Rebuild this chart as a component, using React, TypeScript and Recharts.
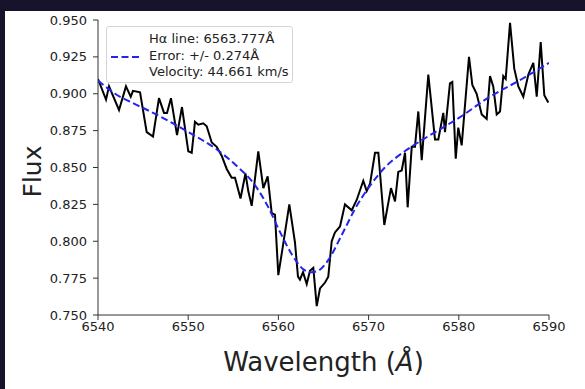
import React from 'react';
import { LineChart, Line, XAxis, YAxis, Legend, Label } from 'recharts';

// observed spectrum around H-alpha
const spectrumWl = [
  6540.0, 6540.89, 6541.22, 6542.33, 6543.1, 6543.63, 6543.88, 6544.66, 6545.4, 6546.1,
  6546.76, 6547.32, 6547.65, 6548.09, 6548.76, 6549.31, 6550.01, 6550.39, 6550.75, 6551.12,
  6551.67, 6552.05, 6552.61, 6553.16, 6553.71, 6554.27, 6554.82, 6555.19, 6555.8, 6556.35,
  6556.66, 6557.04, 6557.77, 6558.33, 6558.81, 6559.26, 6559.62, 6559.99, 6560.48, 6561.21,
  6561.84, 6562.17, 6562.39, 6562.73, 6563.14, 6563.5, 6563.87, 6564.25, 6564.61, 6565.17,
  6565.53, 6565.91, 6566.27, 6566.83, 6567.38, 6568.13, 6568.68, 6569.41, 6569.79, 6570.16,
  6570.71, 6571.08, 6571.74, 6572.48, 6572.93, 6573.29, 6573.67, 6574.04, 6574.33, 6574.78,
  6575.14, 6575.51, 6575.89, 6576.62, 6577.36, 6577.73, 6578.28, 6578.47, 6579.02, 6579.28,
  6579.66, 6579.94, 6580.32, 6581.13, 6581.5, 6581.98, 6582.54, 6583.09, 6583.46, 6583.82,
  6584.2, 6584.57, 6584.93, 6585.2, 6585.68, 6586.15, 6586.6, 6587.15, 6587.71, 6588.26,
  6588.64, 6589.08, 6589.48, 6589.92,
];
const spectrumFlux = [
  0.91, 0.896, 0.905, 0.889, 0.905, 0.898, 0.902, 0.901, 0.874, 0.871,
  0.897, 0.887, 0.887, 0.897, 0.872, 0.891, 0.861, 0.86, 0.881, 0.879,
  0.88, 0.878, 0.867, 0.864, 0.858, 0.849, 0.843, 0.843, 0.829, 0.846,
  0.834, 0.824, 0.861, 0.836, 0.844, 0.819, 0.818, 0.777, 0.796, 0.825,
  0.799, 0.776, 0.774, 0.779, 0.771, 0.78, 0.782, 0.756, 0.768, 0.772,
  0.776, 0.8, 0.806, 0.81, 0.825, 0.821, 0.828, 0.841, 0.834, 0.839,
  0.86, 0.86, 0.811, 0.836, 0.827, 0.847, 0.848, 0.86, 0.823, 0.864,
  0.864, 0.888, 0.855, 0.913, 0.869, 0.869, 0.887, 0.874, 0.907, 0.908,
  0.856, 0.877, 0.865, 0.925, 0.906, 0.9, 0.886, 0.883, 0.912, 0.905,
  0.886, 0.888, 0.912, 0.91, 0.948, 0.917, 0.905, 0.898, 0.913, 0.921,
  0.898, 0.935, 0.899, 0.894,
];

// fitted profile (blue dashed)
const fitWl = [
  6540.0, 6541.9, 6544.1, 6545.8, 6548.3, 6550.0, 6553.0, 6555.2, 6557.4, 6558.8,
  6560.2, 6561.5, 6563.0, 6563.7, 6564.4, 6565.5, 6567.0, 6568.5, 6570.2, 6571.8,
  6574.0, 6576.3, 6578.5, 6580.1, 6583.2, 6587.0, 6590.0,
];
const fitFlux = [
  0.909, 0.9, 0.893, 0.888, 0.88, 0.874, 0.863, 0.852, 0.838, 0.824,
  0.806, 0.791, 0.78, 0.779, 0.78, 0.787, 0.804, 0.822, 0.838, 0.85,
  0.861, 0.87, 0.878, 0.884, 0.897, 0.91, 0.921,
];

const xTicks = [6540, 6550, 6560, 6570, 6580, 6590];
const yTicks = [0.75, 0.775, 0.8, 0.825, 0.85, 0.875, 0.9, 0.925, 0.95];
const legendLines = ['H\u03b1 line: 6563.777\u00c5', 'Error: +/- 0.274\u00c5', 'Velocity: 44.661 km/s'];

const spectrum = spectrumWl.map((wl, i) => ({ wl, flux: spectrumFlux[i] }));
const fit = fitWl.map((wl, i) => ({ wl, flux: fitFlux[i] }));

const FONT = "'DejaVu Sans', sans-serif";
const AXIS = '#333';
const BLUE = '#2424ee';

const LegendBox = () => (
  <div
    style={{
      position: 'relative',
      width: 185,
      height: 55,
      border: '1px solid #d4d4d4',
      borderRadius: 3,
      background: 'rgba(255,255,255,0.85)',
      fontFamily: FONT,
      fontSize: 13,
      color: '#222',
    }}
  >
    <svg style={{ position: 'absolute', left: 4, top: 28 }} width={28} height={4}>
      <line x1={0} y1={2} x2={28} y2={2} stroke={BLUE} strokeWidth={2} strokeDasharray="7 3.5" />
    </svg>
    <div style={{ position: 'absolute', left: 42, top: 4, lineHeight: '16.7px', whiteSpace: 'pre' }}>
      {legendLines.join('\n')}
    </div>
  </div>
);

const App: React.FC = () => {
  return (
    <div style={{ position: 'fixed', left: 0, top: 0, width: 585, height: 389, background: '#17132b', overflow: 'hidden' }}>
      <div style={{ position: 'absolute', left: 5, top: 11, width: 580, height: 378, background: '#fff' }}>
        <LineChart width={580} height={378} margin={{ top: 9, right: 36, bottom: 0, left: 0 }}>
          <XAxis
            dataKey="wl"
            type="number"
            domain={[6540, 6590]}
            ticks={xTicks}
            allowDataOverflow
            height={74}
            tickSize={5}
            tickMargin={2}
            stroke={AXIS}
            tick={{ fill: '#222', fontSize: 13, fontFamily: FONT }}
          >
            <Label
              content={({ viewBox }: any) => (
                <text
                  x={viewBox.x + viewBox.width / 2}
                  y={viewBox.y + 56}
                  textAnchor="middle"
                  fontSize={26}
                  fontFamily={FONT}
                  fill="#222"
                >
                  Wavelength (<tspan fontStyle="italic">Å</tspan>)
                </text>
              )}
            />
          </XAxis>
          <XAxis xAxisId="top" orientation="top" type="number" domain={[6540, 6590]} height={0} tick={false} tickLine={false} stroke={AXIS} />
          <YAxis
            type="number"
            domain={[0.75, 0.95]}
            ticks={yTicks}
            allowDataOverflow
            width={93}
            tickSize={5}
            tickMargin={6}
            stroke={AXIS}
            tickFormatter={(v: number) => v.toFixed(3)}
            tick={{ fill: '#222', fontSize: 13, fontFamily: FONT }}
          >
            <Label
              content={({ viewBox }: any) => {
                const cx = 36;
                const cy = viewBox.y + viewBox.height / 2 + 4;
                return (
                  <text
                    x={cx}
                    y={cy}
                    transform={`rotate(-90, ${cx}, ${cy})`}
                    textAnchor="middle"
                    fontSize={25}
                    fontFamily={FONT}
                    fill="#222"
                  >
                    Flux
                  </text>
                );
              }}
            />
          </YAxis>
          <YAxis yAxisId="right" orientation="right" domain={[0.75, 0.95]} width={0} tick={false} tickLine={false} stroke={AXIS} />
          <Legend
            layout="vertical"
            align="center"
            verticalAlign="middle"
            wrapperStyle={{ left: 101, top: 15, width: 187 }}
            content={() => <LegendBox />}
          />
          <Line
            data={spectrum}
            dataKey="flux"
            type="linear"
            stroke="#000"
            strokeWidth={2}
            dot={false}
            isAnimationActive={false}
            legendType="none"
          />
          <Line
            data={fit}
            dataKey="flux"
            type="monotone"
            stroke={BLUE}
            strokeWidth={2}
            strokeDasharray="7 3.5"
            dot={false}
            isAnimationActive={false}
          />
        </LineChart>
      </div>
    </div>
  );
};

export default App;
